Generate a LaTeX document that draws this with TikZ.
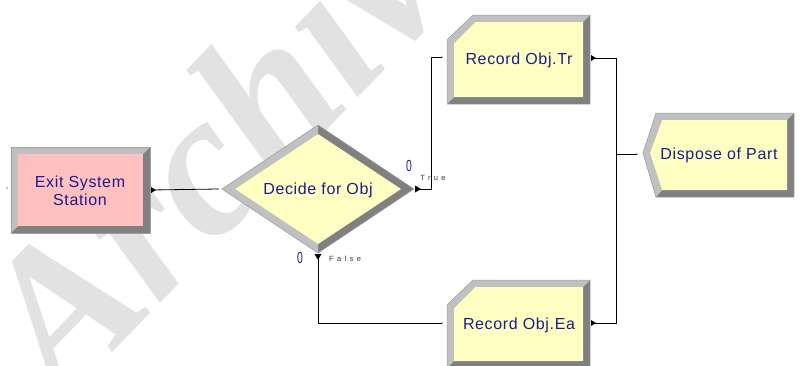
\documentclass[tikz,border=0pt]{standalone}
\usepackage{fontspec}
\setmainfont{Liberation Sans}
\newfontfamily\wmfont{Liberation Serif}
\definecolor{modyellow}{HTML}{FFFFC4}
\definecolor{modpink}{HTML}{FFC0C0}
\definecolor{bevlight}{HTML}{C0C0C0}
\definecolor{bevdark}{HTML}{808080}
\definecolor{bevedge}{HTML}{A0A0A0}
\definecolor{txtblue}{HTML}{1C1C8C}
\definecolor{wmgray}{HTML}{E2E2E2}
\begin{document}
\begin{tikzpicture}[x=1pt,y=-1pt,
  lbl/.style={text=txtblue,font=\fontsize{16}{18}\selectfont\addfontfeature{LetterSpace=4},align=center,inner sep=0},
  cnt/.style={text=txtblue,font=\fontsize{16}{16}\selectfont,inner sep=0,xscale=0.65},
  brn/.style={text=black!80,font=\fontsize{7.5}{8}\selectfont\addfontfeature{LetterSpace=45},inner sep=0},
  conn/.style={draw=black,line width=0.8pt},
  edgeline/.style={draw=bevedge,line width=0.5pt},
  pdot/.style={circle,fill=black,inner sep=0,minimum size=1.4pt}
]
\useasboundingbox (0,0) rectangle (804,365);

% watermark
\node[rotate=46,text=wmgray,font=\wmfont\bfseries\itshape\fontsize{205}{205}\selectfont,inner sep=0,anchor=base west] (wm) at (62,405) {Archive};

% Exit System Station
\fill[bevdark] (11,147) rectangle (150,233);
\fill[bevlight] (11,147) -- (150,147) -- (143,154) -- (18,154) -- (18,226) -- (11,233) -- cycle;
\fill[modpink] (18,154) rectangle (143,226);
\draw[edgeline] (11,147) rectangle (150,233);
\node[lbl] (exit) at (80,191) {Exit System\\Station};

% Decide
\fill[bevdark] (222,189) -- (318,125) -- (414,189) -- (318,253) -- cycle;
\fill[bevlight] (222,189) -- (318,125) -- (318,134) -- (235,189) -- (318,244) -- (318,253) -- cycle;
\fill[modyellow] (235,189) -- (318,134) -- (401,189) -- (318,244) -- cycle;
\draw[edgeline] (222,189) -- (318,125) -- (414,189) -- (318,253) -- cycle;
\node[lbl] (decide) at (318,190) {Decide for Obj};

% Record Obj.Tr
\fill[bevdark] (447,40) -- (473,15) -- (590,15) -- (590,104) -- (447,104) -- cycle;
\fill[bevlight] (447,104) -- (447,40) -- (473,15) -- (590,15) -- (583,22) -- (475.4,22) -- (454,43.4) -- (454,97) -- cycle;
\fill[modyellow] (454,43.4) -- (475.4,22) -- (583,22) -- (583,97) -- (454,97) -- cycle;
\draw[edgeline] (447,40) -- (473,15) -- (590,15) -- (590,104) -- (447,104) -- cycle;
\node[lbl] (rectr) at (519,60) {Record Obj.Tr};

% Record Obj.Ea
\fill[bevdark] (447,305) -- (473,280) -- (590,280) -- (590,368) -- (447,368) -- cycle;
\fill[bevlight] (447,368) -- (447,305) -- (473,280) -- (590,280) -- (583,287) -- (475.4,287) -- (454,308.4) -- (454,361) -- cycle;
\fill[modyellow] (454,308.4) -- (475.4,287) -- (583,287) -- (583,361) -- (454,361) -- cycle;
\draw[edgeline] (447,305) -- (473,280) -- (590,280) -- (590,368) -- (447,368) -- cycle;
\node[lbl] (recea) at (519,325) {Record Obj.Ea};

% Dispose of Part
\fill[bevdark] (643,153) -- (656,113) -- (794,113) -- (794,197) -- (656,197) -- cycle;
\fill[bevlight] (643,153) -- (656,113) -- (794,113) -- (787,120) -- (662,120) -- (650,153) -- (662,190) -- (656,197) -- cycle;
\fill[modyellow] (650,153) -- (662,120) -- (787,120) -- (787,190) -- (662,190) -- cycle;
\draw[edgeline] (643,153) -- (656,113) -- (794,113) -- (794,197) -- (656,197) -- cycle;
\node[lbl] (dispose) at (719,155) {Dispose of Part};

% ports
\coordinate (exitin) at (7,188);
\coordinate (exitout) at (151,190);
\coordinate (decin) at (218,189);
\coordinate (trueout) at (415,189);
\coordinate (falseout) at (318,254);
\coordinate (trin) at (442,57);
\coordinate (trout) at (591,58);
\coordinate (eain) at (442,323);
\coordinate (eaout) at (591,323);
\coordinate (dispin) at (637,154);

\node[pdot] (d1) at (exitin) {};
\node[pdot] (d2) at (decin) {};
\node[pdot] (d3) at (trin) {};
\node[pdot] (d4) at (eain) {};
\node[pdot] (d5) at (dispin) {};

% connectors
\draw[conn] (exitout) -- (decin);
\draw[conn] (trueout) -- ++(16,0) |- (trin);
\draw[conn] (falseout) |- (eain);
\draw[conn] (trout) -- ++(25,0) |- (dispin);
\draw[conn] (eaout) -- ++(25,0) |- (dispin);

% exit markers
\fill (exitout) ++(0,-3) -- ++(5,3) -- ++(-5,3) -- cycle;
\fill (trueout) ++(0,-3.5) -- ++(6,3.5) -- ++(-6,3.5) -- cycle;
\fill (falseout) ++(-3.5,0) -- ++(7,0) -- ++(-3.5,6) -- cycle;
\fill (trout) ++(0,-3) -- ++(5,3) -- ++(-5,3) -- cycle;
\fill (eaout) ++(0,-3) -- ++(5,3) -- ++(-5,3) -- cycle;

% counters and branch labels
\node[cnt] (c1) at (409,166) {0};
\node[cnt] (c2) at (300,258) {0};
\node[cnt] (c3) at (807,188) {0};
\node[brn] (btrue) at (433,178) {True};
\node[brn] (bfalse) at (345,259) {False};
\end{tikzpicture}
\end{document}
